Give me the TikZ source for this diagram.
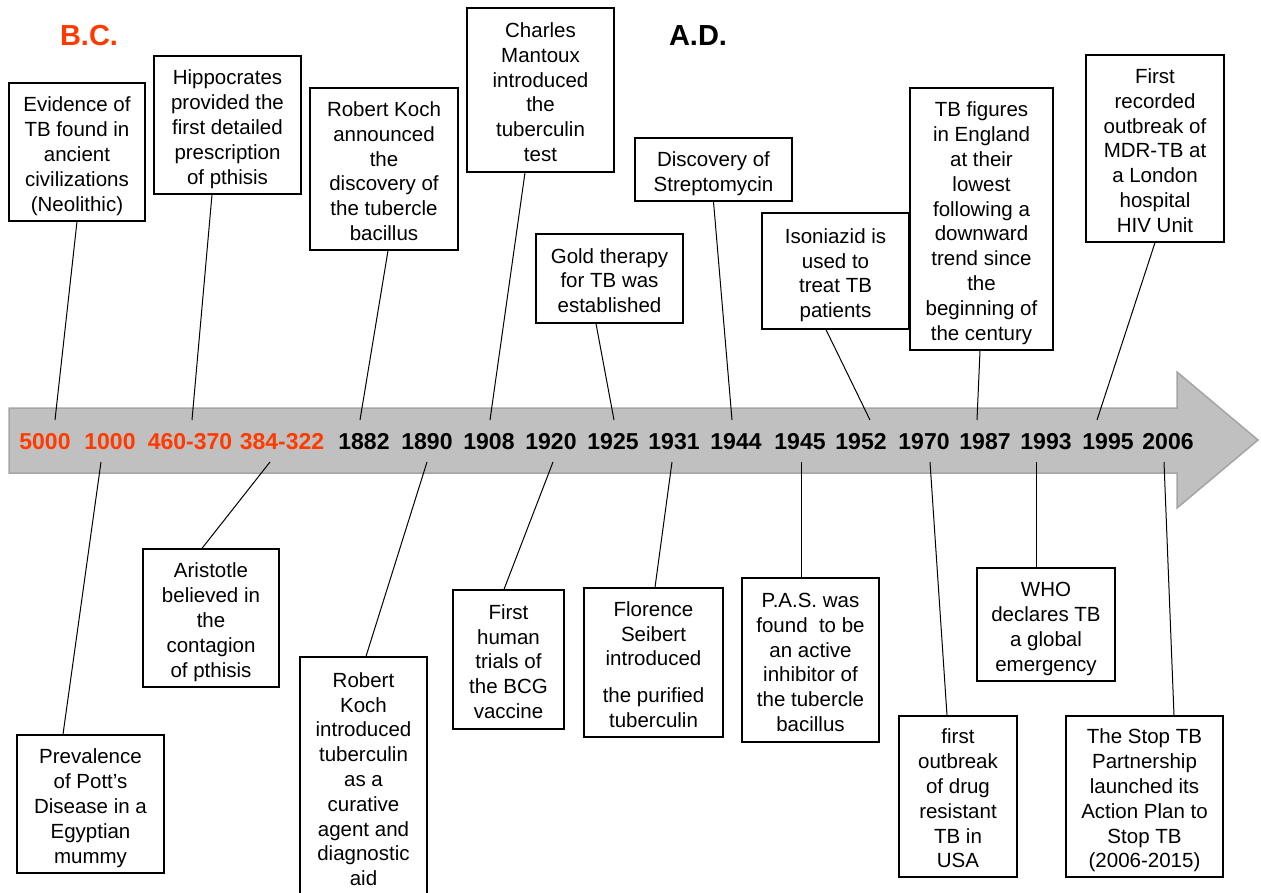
\documentclass[tikz,border=0pt]{standalone}
\usepackage{fontspec}
\setmainfont{Liberation Sans}
\definecolor{bcred}{RGB}{255,58,0}
\definecolor{arrowfill}{RGB}{192,192,192}
\definecolor{arrowline}{RGB}{165,165,165}
\newcommand{\evtext}[1]{\raisebox{-4.5pt}[\height][\depth]{\begin{tabular}{@{}c@{}}#1\end{tabular}}}
\begin{document}
\begin{tikzpicture}[x=1pt,y=-1pt,
  evbox/.style={draw,line width=1.3pt,inner sep=0pt,font=\fontsize{20.5}{24.8}\selectfont},
  yr/.style={font=\fontsize{23}{26}\selectfont\bfseries,inner sep=0pt},
  era/.style={font=\fontsize{29}{32}\selectfont\bfseries,inner sep=0pt},
  conn/.style={line width=1pt}]
\useasboundingbox[fill=white] (0,0) rectangle (1261,892);
% arrow
\draw[fill=arrowfill,draw=arrowline,line width=1.5pt,line join=miter]
  (9,408) -- (1177,408) -- (1177,372) -- (1258,440) -- (1177,508) -- (1177,473) -- (9,473) -- cycle;
% era titles
\node[era,text=bcred] (bc) at (89,36) {B.C.};
\node[era] (ad) at (698,36) {A.D.};
% years
\node[yr,text=bcred] (y1) at (45,442) {5000};
\node[yr,text=bcred] (y2) at (110,442) {1000};
\node[yr,text=bcred] (y3) at (190,442) {460-370};
\node[yr,text=bcred] (y4) at (282,442) {384-322};
\node[yr] (y5) at (364,442) {1882};
\node[yr] (y6) at (427,442) {1890};
\node[yr] (y7) at (489,442) {1908};
\node[yr] (y8) at (551,442) {1920};
\node[yr] (y9) at (613,442) {1925};
\node[yr] (y10) at (674,442) {1931};
\node[yr] (y11) at (736,442) {1944};
\node[yr] (y12) at (800,442) {1945};
\node[yr] (y13) at (861,442) {1952};
\node[yr] (y14) at (924,442) {1970};
\node[yr] (y15) at (985,442) {1987};
\node[yr] (y16) at (1046,442) {1993};
\node[yr] (y17) at (1108,442) {1995};
\node[yr] (y18) at (1168,442) {2006};
% top boxes
\node[evbox,minimum width=136,minimum height=138] (t1) at (77,152) {\evtext{Evidence of\\TB found in\\ancient\\civilizations\\(Neolithic)}};
\node[evbox,minimum width=147,minimum height=138] (t2) at (227.5,125) {\evtext{Hippocrates\\provided the\\first detailed\\prescription\\of pthisis}};
\node[evbox,minimum width=148,minimum height=162] (t3) at (384,169) {\evtext{Robert Koch\\announced\\the\\discovery of\\the tubercle\\bacillus}};
\node[evbox,minimum width=147,minimum height=164] (t4) at (540.5,90) {\evtext{Charles\\Mantoux\\introduced\\the\\tuberculin\\test}};
\node[evbox,minimum width=147,minimum height=89] (t5) at (609.5,278.5) {\evtext{Gold therapy\\for TB was\\established}};
\node[evbox,minimum width=157,minimum height=63] (t6) at (713.5,169.5) {\evtext{Discovery of\\Streptomycin}};
\node[evbox,minimum width=147,minimum height=116] (t7) at (835.5,271) {\evtext{Isoniazid is\\used to\\treat TB\\patients}};
\node[evbox,minimum width=143,minimum height=262] (t8) at (981.5,219) {\evtext{TB figures\\in England\\at their\\lowest\\following a\\downward\\trend since\\the\\beginning of\\the century}};
\node[evbox,minimum width=138,minimum height=187] (t9) at (1155,148.5) {\evtext{First\\recorded\\outbreak of\\MDR-TB at\\a London\\hospital\\HIV Unit}};
% bottom boxes
\node[evbox,minimum width=147,minimum height=138] (b1) at (90.5,804) {\evtext{Prevalence\\of Pott’s\\Disease in a\\Egyptian\\mummy}};
\node[evbox,minimum width=136,minimum height=138] (b2) at (211,618) {\evtext{Aristotle\\believed in\\the\\contagion\\of pthisis}};
\node[evbox,minimum width=127,minimum height=240] (b3) at (363.5,777) {\evtext{Robert\\Koch\\introduced\\tuberculin\\as a\\curative\\agent and\\diagnostic\\aid}};
\node[evbox,minimum width=111,minimum height=139] (b4) at (508.5,659.5) {\evtext{First\\human\\trials of\\the BCG\\vaccine}};
\node[evbox,minimum width=139,minimum height=149] (b5) at (653.5,662.5) {\evtext{Florence\\Seibert\\introduced\\[12pt]the purified\\tuberculin}};
\node[evbox,minimum width=137,minimum height=164] (b6) at (810.5,660) {\evtext{P.A.S. was\\found~~to be\\an active\\inhibitor of\\the tubercle\\bacillus}};
\node[evbox,minimum width=118,minimum height=161] (b7) at (958,796.5) {\evtext{first\\outbreak\\of drug\\resistant\\TB in\\USA}};
\node[evbox,minimum width=138,minimum height=113] (b8) at (1046,624.5) {\evtext{WHO\\declares TB\\a global\\emergency}};
\node[evbox,minimum width=157,minimum height=161] (b9) at (1144.5,796.5) {\evtext{The Stop TB\\Partnership\\launched its\\Action Plan to\\Stop TB\\(2006-2015)}};
% connector free ends on the arrow
\coordinate (e1) at (55,420);
\coordinate (e2) at (192,420);
\coordinate (e3) at (360,420);
\coordinate (e4) at (490,420);
\coordinate (e5) at (614,420);
\coordinate (e6) at (732,420);
\coordinate (e7) at (870,420);
\coordinate (e8) at (977,420);
\coordinate (e9) at (1097,420);
\coordinate (s1) at (101,462);
\coordinate (s2) at (270,462);
\coordinate (s3) at (427,462);
\coordinate (s4) at (553,462);
\coordinate (s5) at (672,462);
\coordinate (s6) at (801,462);
\coordinate (s7) at (930,462);
\coordinate (s8) at (1036,462);
\coordinate (s9) at (1164,462);
% connectors
\draw[conn] (t1.south) -- (e1);
\draw[conn] ([xshift=-15.5pt]t2.south) -- (e2);
\draw[conn] ([xshift=4pt]t3.south) -- (e3);
\draw[conn] ([xshift=-15.5pt]t4.south) -- (e4);
\draw[conn] ([xshift=-13.5pt]t5.south) -- (e5);
\draw[conn] (t6.south) -- (e6);
\draw[conn] ([xshift=-9.5pt]t7.south) -- (e7);
\draw[conn] ([xshift=-1.5pt]t8.south) -- (e8);
\draw[conn] (t9.south) -- (e9);
\draw[conn] (s1) -- ([xshift=-27.5pt]b1.north);
\draw[conn] (s2) -- ([xshift=-9pt]b2.north);
\draw[conn] (s3) -- ([xshift=2.5pt]b3.north);
\draw[conn] (s4) -- ([xshift=-4.5pt]b4.north);
\draw[conn] (s5) -- ([xshift=1.5pt]b5.north);
\draw[conn] (s6) -- ([xshift=-9.5pt]b6.north);
\draw[conn] (s7) -- ([xshift=-11pt]b7.north);
\draw[conn] (s8) -- ([xshift=-10pt]b8.north);
\draw[conn] (s9) -- ([xshift=29.5pt]b9.north);
\end{tikzpicture}
\end{document}
